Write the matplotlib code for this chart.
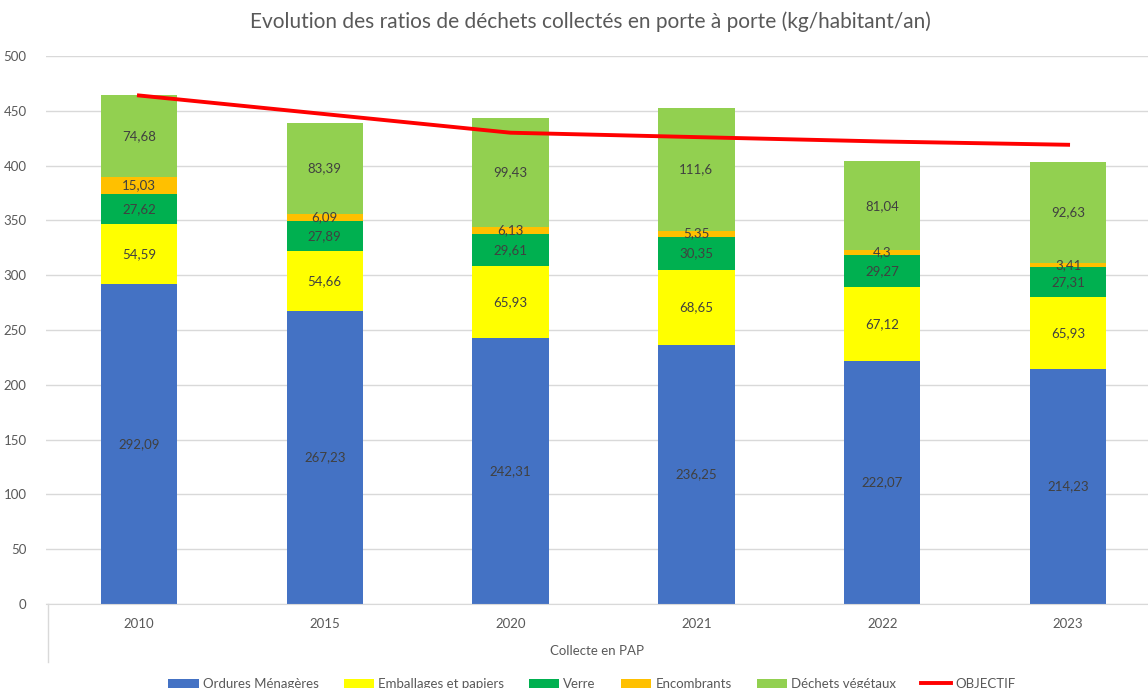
import matplotlib.pyplot as plt
import numpy as np

plt.rcParams['font.family'] = ['Lato', 'DejaVu Sans']

years = ['2010', '2015', '2020', '2021', '2022', '2023']
ordures = [292.09, 267.23, 242.31, 236.25, 222.07, 214.23]
emballages = [54.59, 54.66, 65.93, 68.65, 67.12, 65.93]
verre = [27.62, 27.89, 29.61, 30.35, 29.27, 27.31]
encombrants = [15.03, 6.09, 6.13, 5.35, 4.3, 3.41]
vegetaux = [74.68, 83.39, 99.43, 111.6, 81.04, 92.63]
objectif = [464, 447, 430, 426, 422, 419]

series = [
    ('Ordures Ménagères', ordures, '#4472C4'),
    ('Emballages et papiers', emballages, '#FFFF00'),
    ('Verre', verre, '#00B050'),
    ('Encombrants', encombrants, '#FFC000'),
    ('Déchets végétaux', vegetaux, '#92D050'),
]

W, H = 1148, 688
fig = plt.figure(figsize=(W / 100, H / 100), dpi=100)
# axes run past the right edge, like the cropped original
ax = fig.add_axes([46 / W, (H - 604) / H, (1161 - 46) / W, 548 / H])

x = np.arange(len(years))
bottom = np.zeros(len(years))
handles = []
for name, vals, col in series:
    vals = np.array(vals)
    b = ax.bar(x, vals, 0.41, bottom=bottom, color=col, label=name, zorder=2)
    handles.append(b)
    for xi, v, b0 in zip(x, vals, bottom):
        ax.text(xi, b0 + v / 2, f"{v:g}".replace('.', ','), ha='center', va='center',
                fontsize=9.5, color='#404040', zorder=4)
    bottom += vals

line, = ax.plot(x, objectif, color='#FF0000', lw=2.8, label='OBJECTIF', zorder=3)
handles.append(line)

ax.set_xlim(-0.5, 5.5)
ax.set_ylim(0, 500)
ax.set_yticks(np.arange(0, 501, 50))
ax.yaxis.grid(True, color='#D9D9D9', lw=1, zorder=0)
ax.set_axisbelow(True)
for s in ['top', 'right', 'left']:
    ax.spines[s].set_visible(False)
ax.spines['bottom'].set_color('#D9D9D9')
ax.tick_params(axis='both', length=0, labelsize=9.5, labelcolor='#595959')
ax.tick_params(axis='y', pad=14)
ax.tick_params(axis='x', pad=10)
ax.set_xticks(x)
ax.set_xticklabels(years)

# multi-level category axis
fig.add_artist(plt.Line2D([48 / W, 48 / W], [(H - 604) / H, (H - 662) / H],
                          color='#D9D9D9', lw=1))
fig.text(597 / W, 1 - 651 / H, 'Collecte en PAP', ha='center', va='center',
         fontsize=9.5, color='#595959')

fig.text(590 / W, 1 - 22 / H,
         'Evolution des ratios de déchets collectés en porte à porte (kg/habitant/an)',
         ha='center', va='center', fontsize=15, color='#595959')

fig.legend(handles=handles, loc='center', bbox_to_anchor=(592 / W, 1 - 684 / H),
           ncol=6, frameon=False, fontsize=9.5, labelcolor='#595959',
           handlelength=2.3, handleheight=0.7, columnspacing=1.9, handletextpad=0.3)

fig.savefig('out.png', dpi=100)
